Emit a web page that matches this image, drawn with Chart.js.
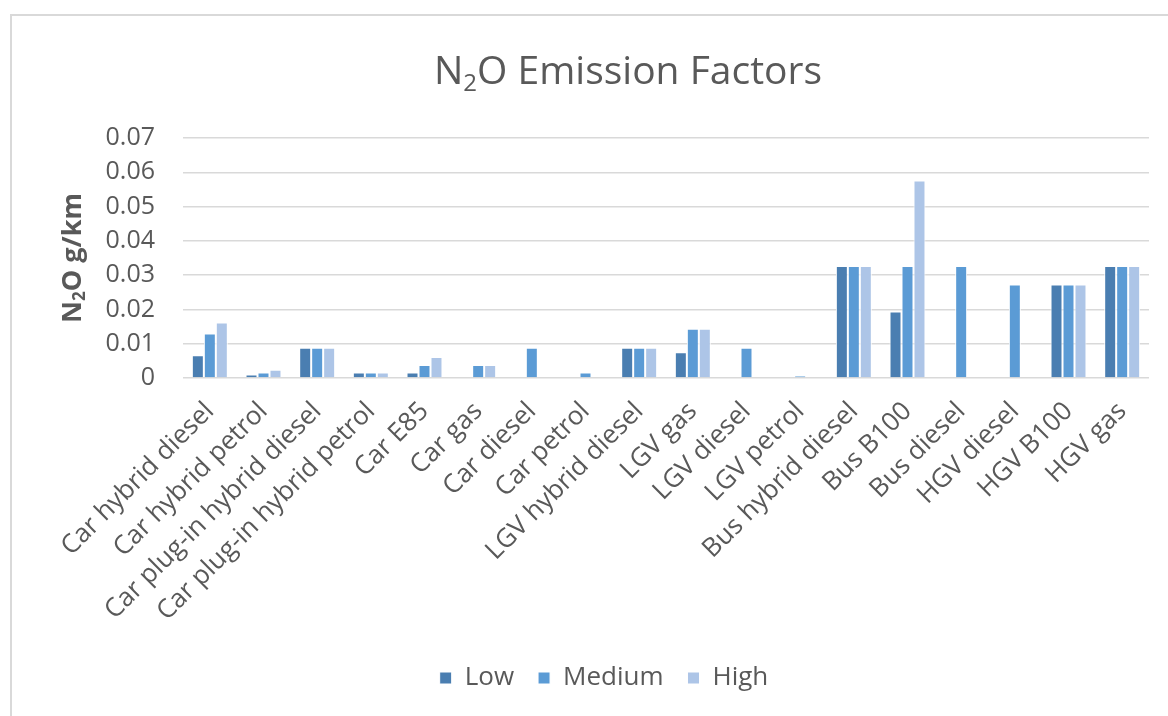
<!DOCTYPE html>
<html>
<head>
<meta charset="utf-8">
<script src="https://cdn.jsdelivr.net/npm/chart.js@4.4.1/dist/chart.umd.min.js"></script>
<style>
  html, body { margin: 0; padding: 0; background: #fff; overflow: hidden; width: 1168px; height: 716px; }
  #frame { position: absolute; left: 10px; top: 14px; width: 1184px; height: 720px; border: 2px solid #d9d9d9; }
</style>
</head>
<body>
<div id="frame"><canvas id="chart"></canvas></div>
<script>
// Data
const categories = [
  'Car hybrid diesel', 'Car hybrid petrol', 'Car plug-in hybrid diesel', 'Car plug-in hybrid petrol',
  'Car E85', 'Car gas', 'Car diesel', 'Car petrol', 'LGV hybrid diesel', 'LGV gas', 'LGV diesel',
  'LGV petrol', 'Bus hybrid diesel', 'Bus B100', 'Bus diesel', 'HGV diesel', 'HGV B100', 'HGV gas'
];
const lowValues    = [0.0066, 0.001,  0.0088, 0.0016, 0.0016, null,   null,   null,   0.0088, 0.0075, null,   null,   0.0327, 0.0194, null,   null,   0.0273, 0.0327];
const mediumValues = [0.013,  0.0016, 0.0088, 0.0016, 0.0038, 0.0038, 0.0088, 0.0016, 0.0088, 0.0144, 0.0088, 0.0006, 0.0327, 0.0327, 0.0327, 0.0273, 0.0273, 0.0327];
const highValues   = [0.0162, 0.0024, 0.0088, 0.0016, 0.0061, 0.0038, null,   null,   0.0088, 0.0144, null,   null,   0.0327, 0.0576, null,   null,   0.0273, 0.0327];
const seriesNames = ['Low', 'Medium', 'High'];
const yTicks = [0, 0.01, 0.02, 0.03, 0.04, 0.05, 0.06, 0.07];

// Titles with subscript 2
const titleParts = [{ t: 'N' }, { t: '2', sub: true }, { t: 'O Emission Factors' }];
const yTitleParts = [{ t: 'N' }, { t: '2', sub: true }, { t: 'O g/km' }];

const TEXT = '#595959';
const FONT = "'Open Sans', 'DejaVu Sans', sans-serif";

function drawParts(ctx, parts, size, weight, cx, cy) {
  const subSize = Math.round(size * 0.62);
  const widths = parts.map(p => {
    ctx.font = `${weight} ${p.sub ? subSize : size}px ${FONT}`;
    return ctx.measureText(p.t).width;
  });
  let x = cx - widths.reduce((a, b) => a + b, 0) / 2;
  ctx.textAlign = 'left';
  ctx.textBaseline = 'middle';
  parts.forEach((p, i) => {
    ctx.font = `${weight} ${p.sub ? subSize : size}px ${FONT}`;
    ctx.fillText(p.t, x, p.sub ? cy + size * 0.28 : cy);
    x += widths[i];
  });
}

const subTitles = {
  id: 'subTitles',
  afterDraw(chart) {
    const ctx = chart.ctx;
    const area = chart.chartArea;
    ctx.save();
    ctx.fillStyle = TEXT;
    drawParts(ctx, titleParts, 39, 'normal', chart.width / 2 + 24, 57);
    ctx.translate(61, (area.top + area.bottom) / 2);
    ctx.rotate(-Math.PI / 2);
    drawParts(ctx, yTitleParts, 27, 'bold', 0, 0);
    ctx.restore();
  }
};

const colors = ['#4a7eb1', '#5b9bd5', '#adc5e7'];
const seriesData = [lowValues, mediumValues, highValues];

new Chart(document.getElementById('chart'), {
  type: 'bar',
  data: {
    labels: categories,
    datasets: seriesNames.map((name, i) => ({
      label: name,
      data: seriesData[i],
      backgroundColor: colors[i],
      borderColor: '#ffffff',
      borderWidth: 1,
      barPercentage: 1,
      categoryPercentage: 0.67
    }))
  },
  options: {
    responsive: true,
    maintainAspectRatio: false,
    animation: false,
    layout: { padding: { top: 122, right: 0, bottom: 35, left: 0 } },
    plugins: {
      title: { display: false },
      tooltip: { enabled: false },
      legend: {
        position: 'bottom',
        labels: {
          color: TEXT,
          font: { family: FONT, size: 26 },
          boxWidth: 12,
          boxHeight: 12,
          padding: 24
        }
      }
    },
    scales: {
      x: {
        grid: { display: false },
        border: { display: false },
        ticks: {
          color: TEXT,
          font: { family: FONT, size: 26 },
          minRotation: 45,
          maxRotation: 45,
          padding: 10,
          autoSkip: false
        },
        afterFit(scale) { scale.height = 263; }
      },
      y: {
        min: 0,
        max: 0.07,
        afterBuildTicks(scale) { scale.ticks = yTicks.map(v => ({ value: v })); },
        grid: { color: '#d9d9d9', lineWidth: 1.5, drawTicks: false },
        border: { display: false },
        ticks: {
          color: TEXT,
          font: { family: FONT, size: 25 },
          padding: 28,
          callback: v => v === 0 ? '0' : v.toFixed(2)
        },
        afterFit(scale) { scale.width = 171; }
      },
      // empty right margin so the legend stays centred on the full frame
      gap: {
        type: 'linear',
        position: 'right',
        grid: { display: false },
        border: { display: false },
        ticks: { display: false },
        afterFit(scale) { scale.width = 47; }
      }
    }
  },
  plugins: [subTitles]
});
</script>
</body>
</html>
